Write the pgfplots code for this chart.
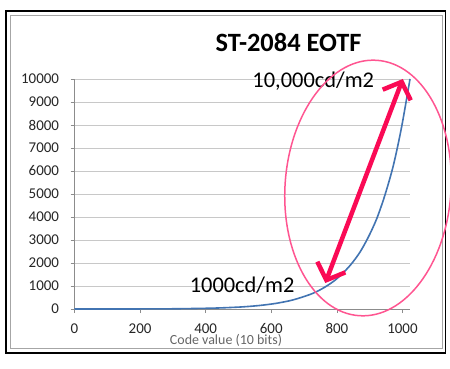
\documentclass[border=0pt]{standalone}
\usepackage{pgfplots}
\pgfplotsset{compat=1.18}
\usepackage{fontspec}
\setmainfont{Carlito}
\usetikzlibrary{arrows.meta}
\definecolor{curve}{RGB}{66,116,178}
\definecolor{arrowc}{RGB}{250,10,85}
\definecolor{ellc}{RGB}{255,85,145}
\definecolor{gridc}{RGB}{200,200,200}
\definecolor{axc}{RGB}{140,140,140}
\begin{document}
\begin{tikzpicture}
\useasboundingbox (0,0) rectangle (450bp,369bp);
\fill[white] (0,0) rectangle (450bp,369bp);
\draw[black, line width=1.8bp] (6bp,16bp) rectangle (445.5bp,358bp);
\draw[gray!70, line width=0.8bp] (10bp,20.5bp) rectangle (442bp,354bp);
\begin{axis}[
  at={(74.5bp,60bp)}, anchor=south west,
  scale only axis, width=335.5bp, height=230bp,
  xmin=0, xmax=1023, ymin=0, ymax=10000,
  axis lines=left, axis line style={-, draw=axc, line width=0.8bp},
  xtick={0,200,400,600,800,1000},
  ytick={0,1000,2000,3000,4000,5000,6000,7000,8000,9000,10000},
  scaled ticks=false,
  /pgf/number format/set thousands separator={},
  /pgf/number format/assume math mode=true,
  tick align=outside, major tick length=4bp,
  tick style={draw=axc, line width=0.6bp},
  ymajorgrids, grid style={draw=gridc, line width=0.8bp},
  ticklabel style={font=\fontsize{15}{16}\selectfont, text=black!85},
  xticklabel style={yshift=-7bp},
  yticklabel style={xshift=-8bp},
  clip=false,
]
\addplot[curve, line width=1.6bp, smooth] coordinates {
(0,0) (102,0.32) (205,2.4) (307,10) (409,33) (460,56) (512,92) (563,151)
(614,244) (665,390) (716,621) (742,782) (767,983) (793,1237) (818,1555)
(844,1956) (870,2461) (895,3099) (921,3907) (946,4928) (972,6228)
(997,7884) (1023,10000)};
\coordinate (ec) at (axis cs:895,5261);
\draw[arrowc, line width=4.5bp, {Straight Barb[length=14bp,width=30bp]}-{Straight Barb[length=14bp,width=30bp]}]
  (axis cs:764.6,1130) -- (axis cs:1001,10000);
\node[anchor=base, font=\fontsize{22.5}{24}\selectfont, inner sep=0pt] at (axis cs:728,9652) {10,000cd/m2};
\node[anchor=base, font=\fontsize{22.5}{24}\selectfont, inner sep=0pt] at (axis cs:511,696) {1000cd/m2};
\end{axis}
\begin{scope}[shift={(ec)}, rotate=-4]
\draw[ellc, line width=1.5bp] (0,0) ellipse [x radius=83bp, y radius=128bp];
\end{scope}
\node[anchor=base, font=\bfseries\fontsize{26.5}{28}\selectfont, inner sep=0pt] at (288.5bp,317bp) {ST-2084 EOTF};
\node[font=\fontsize{14}{15}\selectfont, text=black!60, inner sep=0pt] at (226bp,29bp) {Code value (10 bits)};
\end{tikzpicture}
\end{document}
